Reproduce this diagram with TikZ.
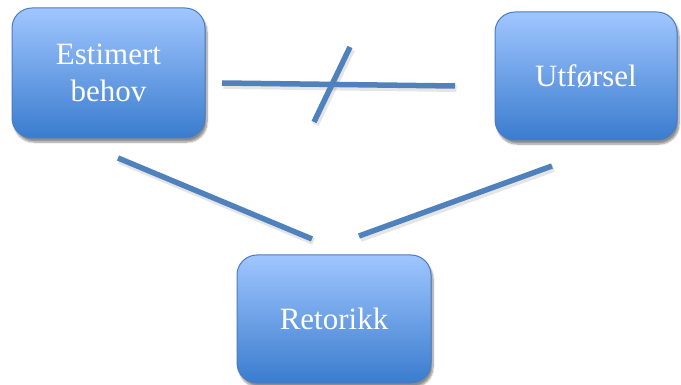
\documentclass[tikz,border=0pt]{standalone}
\usepackage{fontspec}
\setmainfont{Liberation Serif}
\usetikzlibrary{shadows.blur}
\definecolor{boxtop}{RGB}{160,198,255}
\definecolor{boxbot}{RGB}{58,124,206}
\definecolor{boxline}{RGB}{74,124,192}
\definecolor{linkblue}{RGB}{79,129,189}
\tikzset{
  box/.style={draw=boxline, line width=1pt, rounded corners=20pt,
    top color=boxtop, bottom color=boxbot,
    blur shadow={shadow xshift=2pt, shadow yshift=-4pt, shadow blur steps=8, shadow opacity=45},
    text=white, font=\fontsize{31}{37}\selectfont, align=center, inner sep=0pt},
  link/.style={draw=linkblue, line width=5.5pt},
  linkshade/.style={draw=black, opacity=0.10, line width=7pt, transform canvas={shift={(1.5pt,-2.5pt)}}}
}
\begin{document}
\begin{tikzpicture}[x=1pt,y=1pt]
  \useasboundingbox (0,0) rectangle (681,-385);
  % the three concept boxes
  \node[box, minimum width=193pt, minimum height=130pt] (est) at (108.5,-73) {Estimert\\behov};
  \node[box, minimum width=182pt, minimum height=128pt] (utf) at (586,-76) {Utførsel};
  \node[box, minimum width=194pt, minimum height=128pt] (ret) at (334,-319) {Retorikk};
  % line end points
  \coordinate (h1) at (222,-83);
  \coordinate (h2) at (455,-86);
  \coordinate (c1) at (350,-47);
  \coordinate (c2) at (314,-122);
  \coordinate (l1) at (118,-158);
  \coordinate (l2) at (312,-239);
  \coordinate (r1) at (359,-236);
  \coordinate (r2) at (552,-166);
  % soft shadows under the lines
  \foreach \a/\b in {h1/h2, c1/c2, l1/l2, r1/r2}
    \draw[linkshade] (\a) -- (\b);
  % the lines
  \foreach \a/\b in {h1/h2, c1/c2, l1/l2, r1/r2}
    \draw[link] (\a) -- (\b);
\end{tikzpicture}
\end{document}
